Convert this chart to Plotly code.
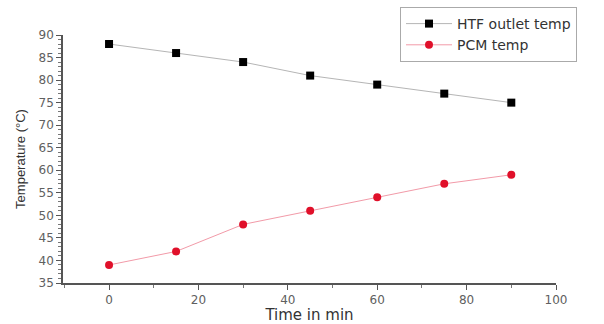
import plotly.graph_objects as go

# Time (min) and measured temperatures (°C)
time_min = [0, 15, 30, 45, 60, 75, 90]
htf_outlet = [88, 86, 84, 81, 79, 77, 75]
pcm_temp = [39, 42, 48, 51, 54, 57, 59]

x_ticks = [0, 20, 40, 60, 80, 100]
y_ticks = [35, 40, 45, 50, 55, 60, 65, 70, 75, 80, 85, 90]

WIDE = "DejaVu Sans, Verdana, sans-serif"
NARROW = "Liberation Sans, Arial, sans-serif"

fig = go.Figure()
fig.add_trace(go.Scatter(
    x=time_min, y=htf_outlet, name="HTF outlet temp",
    mode="lines+markers",
    line=dict(color="#b5b5b5", width=1),
    marker=dict(symbol="square", size=8, color="black"),
))
fig.add_trace(go.Scatter(
    x=time_min, y=pcm_temp, name="PCM temp",
    mode="lines+markers",
    line=dict(color="#f29aa8", width=1),
    marker=dict(symbol="circle", size=8, color="#e0102a"),
))

axis_common = dict(
    showline=True, linecolor="#555555", linewidth=1.5,
    showgrid=False, zeroline=False,
    ticks="outside", ticklen=5, tickcolor="#555555",
    tickfont=dict(family=WIDE, size=12, color="#606060"),
)

fig.update_xaxes(
    range=[-10.3, 100], tickvals=x_ticks,
    minor=dict(ticks="outside", ticklen=3, tickcolor="#777777", dtick=10, tick0=0),
    title=dict(text="Time in min", font=dict(family=WIDE, size=15, color="#333333"), standoff=8),
    **axis_common,
)
fig.update_yaxes(
    range=[35, 90], tickvals=y_ticks,
    minor=dict(ticks="outside", ticklen=3, tickcolor="#777777", dtick=1, tick0=35),
    title=dict(text="Temperature (°C)", font=dict(family=NARROW, size=13, color="#333333"), standoff=10),
    **axis_common,
)

plot_w = 604 - 63 - 48
plot_h = 324 - 35 - 41

fig.update_layout(
    width=604, height=324,
    margin=dict(l=63, r=48, t=35, b=41, autoexpand=False),
    paper_bgcolor="white", plot_bgcolor="white",
    showlegend=True,
    legend=dict(
        # legend box pinned near the top-right corner of the page
        x=(400 - 63) / plot_w, y=1 + (35 - 7) / plot_h,
        xref="paper", yref="paper",
        xanchor="left", yanchor="top",
        font=dict(family=WIDE, size=14, color="#333333"),
        bordercolor="#aaaaaa", borderwidth=1, bgcolor="white",
        tracegroupgap=0, itemwidth=46,
    ),
)

fig.write_html("out.html")
